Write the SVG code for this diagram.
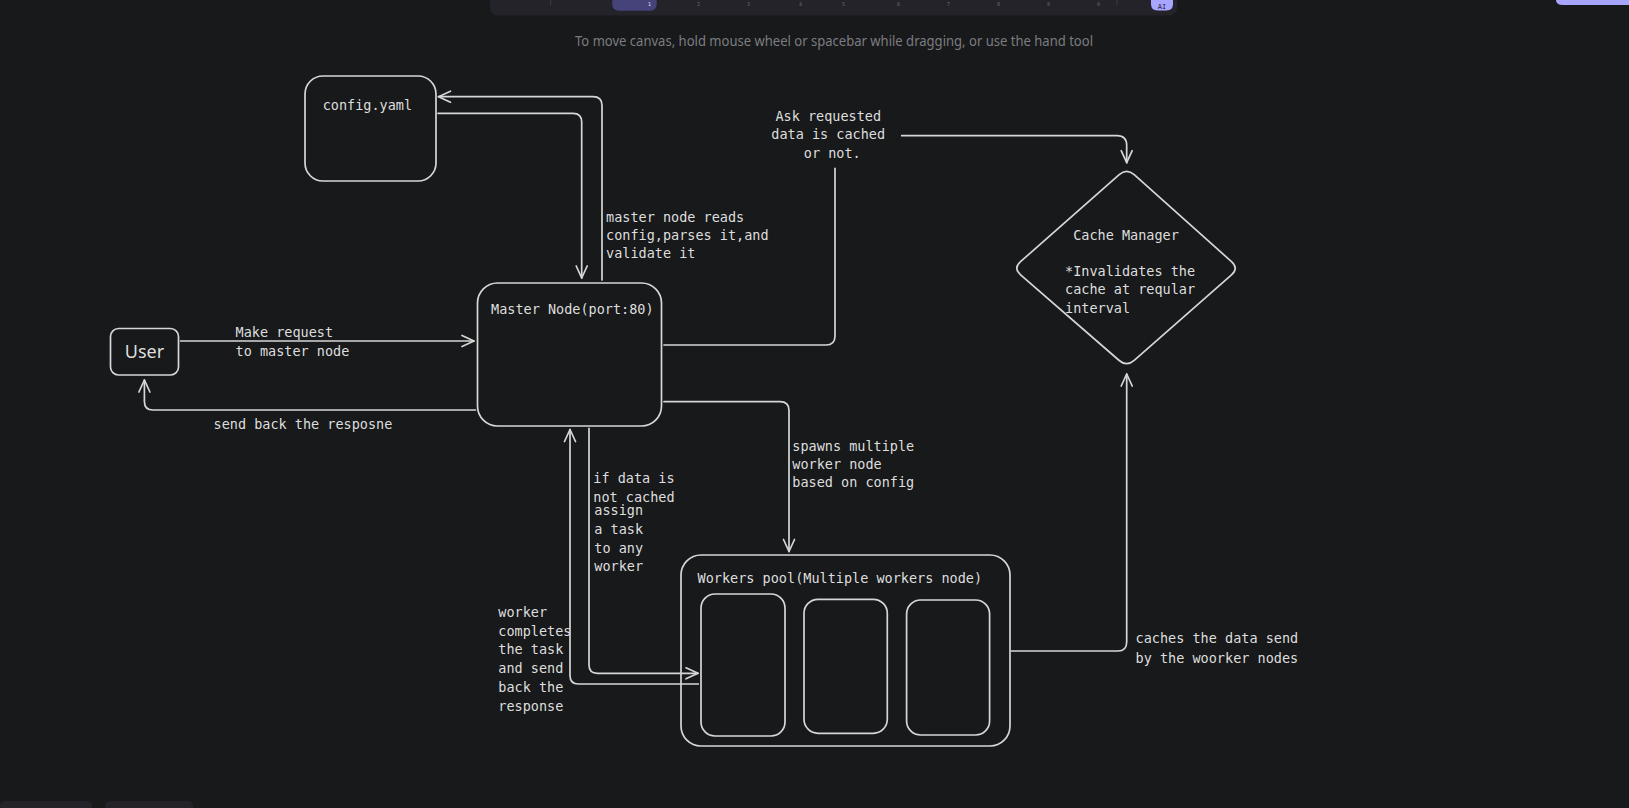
<svg xmlns="http://www.w3.org/2000/svg" width="1629" height="808" viewBox="0 0 1629 808">
  <style>
    .bg { fill: #18191b; }
    .ui { fill: #232329; }
    .shape { fill: none; stroke: #d6d6d6; stroke-width: 1.7; stroke-linejoin: round; stroke-linecap: round; }
    .edge { fill: none; stroke: #d6d6d6; stroke-width: 1.7; stroke-linejoin: round; stroke-linecap: round; }
    .mono { font-family: "DejaVu Sans Mono", "Liberation Mono", monospace; font-size: 13.5px; fill: #dedede; }
    .sans { font-family: "Noto Sans", "Liberation Sans", sans-serif; fill: #dedede; }
    .hint { font-family: "Noto Sans", "Open Sans", sans-serif; font-size: 14px; fill: #7c7c80; }
    .key { font-family: "DejaVu Sans Mono", monospace; font-size: 5px; fill: #6e6e74; }
  </style>
  <defs>
    <marker id="arrow" viewBox="-14 -8 16 16" refX="0" refY="0" markerWidth="16" markerHeight="16" markerUnits="userSpaceOnUse" orient="auto">
      <path d="M-12,-5.5 L0,0 L-12,5.5" fill="none" stroke="#d6d6d6" stroke-width="1.7" stroke-linecap="round" stroke-linejoin="round"/>
    </marker>
  </defs>

  <!-- canvas -->
  <rect class="bg" x="0" y="0" width="1629" height="808"/>

  <!-- editor chrome -->
  <g id="toolbar">
    <path class="ui" d="M490,0 H1177 V7 Q1177,15.5 1168.5,15.5 H498.5 Q490,15.5 490,7 Z"/>
    <line x1="550.7" y1="0" x2="550.7" y2="5" stroke="#3a3a40" stroke-width="1"/>
    <line x1="1117" y1="0" x2="1117" y2="5" stroke="#3a3a40" stroke-width="1"/>
    <path d="M612.3,0 H656.7 V4 Q656.7,10.7 650,10.7 H619 Q612.3,10.7 612.3,4 Z" fill="#45437a"/>
    <text class="key" x="648" y="5.5" style="fill:#e8e8f0">1</text>
    <text class="key" x="697" y="5.5">2</text>
    <text class="key" x="747" y="5.5">3</text>
    <text class="key" x="799" y="5.5">4</text>
    <text class="key" x="842" y="5.5">5</text>
    <text class="key" x="897" y="5.5">6</text>
    <text class="key" x="947" y="5.5">7</text>
    <text class="key" x="997" y="5.5">8</text>
    <text class="key" x="1047" y="5.5">9</text>
    <text class="key" x="1097" y="5.5">0</text>
    <path d="M1151,0 H1173 V4 Q1173,10.5 1166.5,10.5 H1157.5 Q1151,10.5 1151,4 Z" fill="#a8a5ff"/>
    <text x="1162" y="8.5" text-anchor="middle" font-family="DejaVu Sans Mono, monospace" font-size="7px" fill="#1e1e3a">AI</text>
  </g>
  <path id="share-button" d="M1556,0 H1629 V5 H1563 Q1556,5 1556,0 Z" fill="#a8a5ff"/>
  <g id="footer-controls">
    <path class="ui" d="M0,808 L0,806 Q0,801 6,801 H86 Q92,801 92,806 V808 Z"/>
    <path class="ui" d="M105,808 V806 Q105,801 111,801 H187 Q193,801 193,806 V808 Z"/>
  </g>
  <text class="hint" x="834" y="46" text-anchor="middle" textLength="518" lengthAdjust="spacingAndGlyphs">To move canvas, hold mouse wheel or spacebar while dragging, or use the hand tool</text>

  <!-- connectors -->
  <g id="connectors">
    <!-- user makes request -->
    <path class="edge" d="M180.6,341 L474,341" marker-end="url(#arrow)"/>
    <!-- response back to user -->
    <path class="edge" d="M475.5,410 L153,410 Q144.4,410 144.4,401.5 L144.4,380" marker-end="url(#arrow)"/>
    <!-- config read by master -->
    <path class="edge" d="M438,113.3 L573,113.3 Q581.7,113.3 581.7,122 L581.7,278" marker-end="url(#arrow)"/>
    <!-- master back to config -->
    <path class="edge" d="M602,280 L602,105.5 Q602,96.7 593,96.7 L438.5,96.7" marker-end="url(#arrow)"/>
    <!-- cache lookup, split round its label -->
    <path class="edge" d="M664,345 L826,345 Q835,345 835,336 L835,168.3"/>
    <path class="edge" d="M901.7,135.7 L1117,135.7 Q1126.7,135.7 1126.7,145.5 L1126.7,162.7" marker-end="url(#arrow)"/>
    <!-- spawn workers -->
    <path class="edge" d="M664,401.7 L780,401.7 Q789,401.7 789,410.5 L789,551.5" marker-end="url(#arrow)"/>
    <!-- assign task -->
    <path class="edge" d="M589,428.3 L589,665 Q589,673.3 597.5,673.3 L698,673.3" marker-end="url(#arrow)"/>
    <!-- worker response -->
    <path class="edge" d="M698.3,684 L578.5,684 Q570,684 570,675.5 L570,429.5" marker-end="url(#arrow)"/>
    <!-- cache the results -->
    <path class="edge" d="M1011.4,651 L1118,651 Q1126.7,651 1126.7,642 L1126.7,374" marker-end="url(#arrow)"/>
  </g>

  <!-- connector labels -->
  <g id="labels">
    <text class="mono" x="235.5" y="336.7">Make request</text>
    <text class="mono" x="235.5" y="356">to master node</text>
    <text class="mono" x="213.5" y="429.3">send back the resposne</text>
    <text class="mono">
      <tspan x="606" y="221.7">master node reads</tspan>
      <tspan x="606" y="240">config,parses it,and</tspan>
      <tspan x="606" y="257.7">validate it</tspan>
    </text>
    <text class="mono" text-anchor="middle">
      <tspan x="832.3" y="120.7">Ask requested</tspan>
      <tspan x="832.3" y="139.3">data is cached</tspan>
      <tspan x="832.3" y="157.7">or not.</tspan>
    </text>
    <text class="mono">
      <tspan x="792.3" y="450.7">spawns multiple</tspan>
      <tspan x="792.3" y="469.3">worker node</tspan>
      <tspan x="792.3" y="487.3">based on config</tspan>
    </text>
    <text class="mono">
      <tspan x="593.3" y="482.7">if data is</tspan>
      <tspan x="593.3" y="501.7">not cached</tspan>
    </text>
    <text class="mono">
      <tspan x="594.3" y="515">assign</tspan>
      <tspan x="594.3" y="534">a task</tspan>
      <tspan x="594.3" y="552.7">to any</tspan>
      <tspan x="594.3" y="571">worker</tspan>
    </text>
    <text class="mono">
      <tspan x="498.3" y="617.3">worker</tspan>
      <tspan x="498.3" y="636">completes</tspan>
      <tspan x="498.3" y="654">the task</tspan>
      <tspan x="498.3" y="673.3">and send</tspan>
      <tspan x="498.3" y="692.3">back the</tspan>
      <tspan x="498.3" y="711">response</tspan>
    </text>
    <text class="mono">
      <tspan x="1135.6" y="643.3">caches the data send</tspan>
      <tspan x="1135.6" y="662.7">by the woorker nodes</tspan>
    </text>
  </g>

  <!-- nodes -->
  <g id="config-yaml">
    <rect class="shape" x="305" y="76" width="131" height="105" rx="18"/>
    <text class="mono" x="322.7" y="110">config.yaml</text>
  </g>

  <g id="user">
    <rect class="shape" x="110.5" y="328.5" width="68" height="46.5" rx="8"/>
    <text class="sans" x="144.5" y="358.3" font-size="18" text-anchor="middle">User</text>
  </g>

  <g id="master-node">
    <rect class="shape" x="477.5" y="283" width="184" height="143" rx="20"/>
    <text class="mono" x="491" y="314">Master Node(port:80)</text>
  </g>

  <g id="cache-manager">
    <path class="shape" d="M1134.2,174.7 L1231.5,261.6 Q1239,268.3 1231.5,274.9 L1134.2,360.4 Q1126.7,367 1119.2,360.5 L1020.6,274.9 Q1013,268.3 1020.5,261.7 L1119.2,174.6 Q1126.7,168 1134.2,174.7 Z"/>
    <text class="mono" x="1126" y="240" text-anchor="middle">Cache Manager</text>
    <text class="mono">
      <tspan x="1065" y="275.7">*Invalidates the</tspan>
      <tspan x="1065" y="294.3">cache at reqular</tspan>
      <tspan x="1065" y="312.7">interval</tspan>
    </text>
  </g>

  <g id="workers-pool">
    <rect class="shape" x="681" y="555" width="329" height="191" rx="20"/>
    <text class="mono" x="697.6" y="582.7">Workers pool(Multiple workers node)</text>
  </g>

  <g id="worker-1">
    <rect class="shape" x="701" y="594" width="84" height="142" rx="14"/>
  </g>
  <g id="worker-2">
    <rect class="shape" x="804" y="599.3" width="83.3" height="134" rx="14"/>
  </g>
  <g id="worker-3">
    <rect class="shape" x="906.6" y="600" width="83" height="135" rx="14"/>
  </g>
</svg>
